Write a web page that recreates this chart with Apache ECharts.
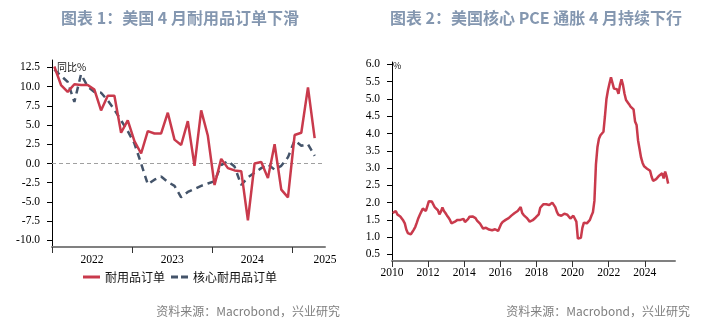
<!DOCTYPE html>
<html>
<head>
<meta charset="utf-8">
<script src="https://cdn.jsdelivr.net/npm/echarts@6/dist/echarts.min.js"></script>
<style>
html,body{margin:0;padding:0;background:#fff;}
#c{width:708px;height:322px;}
</style>
</head>
<body>
<div id="c"></div>
<script>
// ---- Chart 1: durable goods orders YoY (%), monthly Jan 2022 - Apr 2025 ----
const durableOrders = [12.6,10.2,9.3,10.3,10.2,10.2,9.6,6.9,8.8,8.8,4.0,5.6,
  2.9,1.3,4.2,3.9,3.9,6.6,3.1,2.4,5.5,-0.3,6.9,3.6,
  -2.8,0.6,-0.6,-0.9,-1.0,-7.4,0.0,0.2,-1.9,2.5,-3.4,-4.4,
  3.7,4.0,9.9,3.3];
const coreDurableOrders = [12.2,11.4,10.6,8.0,11.6,10.0,9.3,9.2,8.2,7.0,5.6,4.2,
  2.6,0.0,-2.7,-2.1,-1.7,-2.4,-2.9,-4.4,-3.7,-3.3,-2.9,-2.6,
  -2.3,-0.2,0.3,-0.4,-2.8,-1.8,-1.2,-0.6,-0.1,-0.8,-0.3,0.8,
  3.0,2.3,2.5,1.0];
const leftYears = [2022,2023,2024,2025];
const leftYTicks = [-10,-7.5,-5,-2.5,0,2.5,5,7.5,10,12.5];

// ---- Chart 2: core PCE YoY (%), monthly Jan 2010 - Apr 2025 ----
const corePCE = [
  1.70,1.72,1.76,1.66,1.63,1.60,1.55,1.48,1.40,1.22,1.12,1.08, // 2010
  1.08,1.15,1.22,1.30,1.42,1.55,1.65,1.74,1.83,1.80,1.76,1.90, // 2011
  2.04,2.05,2.03,1.98,1.86,1.82,1.78,1.66,1.74,1.86,1.76,1.70, // 2012
  1.63,1.57,1.50,1.40,1.38,1.44,1.47,1.50,1.53,1.50,1.48,1.53, // 2013
  1.44,1.41,1.52,1.59,1.61,1.60,1.58,1.55,1.48,1.45,1.39,1.32, // 2014
  1.25,1.28,1.27,1.25,1.22,1.21,1.20,1.21,1.23,1.19,1.18,1.21, // 2015
  1.38,1.44,1.46,1.50,1.54,1.55,1.58,1.63,1.68,1.70,1.73,1.76, // 2016
  1.80,1.87,1.70,1.64,1.59,1.56,1.53,1.45,1.44,1.49,1.53,1.57, // 2017
  1.62,1.66,1.85,1.90,1.95,1.96,1.95,1.90,1.93,1.92,2.00,2.02, // 2018
  1.87,1.74,1.65,1.60,1.62,1.64,1.68,1.73,1.65,1.60,1.54,1.58, // 2019
  1.62,1.64,1.45,0.96,0.94,0.98,1.27,1.42,1.44,1.40,1.42,1.50, // 2020
  1.62,1.72,2.05,3.10,3.60,3.85,3.95,4.00,4.05,4.50,5.00,5.25, // 2021
  5.45,5.63,5.62,5.30,5.25,5.28,5.15,5.40,5.57,5.40,5.15,4.97, // 2022
  4.92,4.85,4.78,4.74,4.70,4.35,4.25,3.80,3.55,3.30,3.15,3.05, // 2023
  3.05,2.98,2.96,2.92,2.75,2.63,2.66,2.68,2.70,2.78,2.83,2.85, // 2024
  2.70,2.90,2.75,2.55                                          // 2025
];
const rightYears = [2010,2012,2014,2016,2018,2020,2022,2024];
const rightYTicks = [0.5,1,1.5,2,2.5,3,3.5,4,4.5,5,5.5,6];

const RED = '#C93A4C';
const NAVY = '#44546A';
const serif = 'Liberation Serif';
const cjk = 'Noto Sans CJK SC';

const leftPoints = (arr) => arr.map((v, i) => [i + 0.35, v]);
const rightPoints = corePCE.map((v, k) => [2010 + (k + 0.5) / 12, v]);

const chart = echarts.init(document.getElementById('c'), null, {renderer: 'canvas'});
chart.setOption({
  animation: false,
  backgroundColor: '#fff',
  title: [
    {text: '图表 1：美国 4 月耐用品订单下滑', left: 175, top: 5, textAlign: 'center',
     textStyle: {fontFamily: cjk, fontSize: 16, fontWeight: 'bold', color: '#8497B0'}},
    {text: '图表 2：美国核心 PCE 通胀 4 月持续下行', left: 531, top: 5, textAlign: 'center',
     textStyle: {fontFamily: cjk, fontSize: 16, fontWeight: 'bold', color: '#8497B0'}}
  ],
  graphic: [
    {type: 'text', right: 368, top: 305, style: {text: '资料来源：Macrobond，兴业研究', font: '12px "Noto Sans CJK SC"', fill: '#7F7F7F'}},
    {type: 'text', right: 18, top: 305, style: {text: '资料来源：Macrobond，兴业研究', font: '12px "Noto Sans CJK SC"', fill: '#7F7F7F'}}
  ],
  legend: {
    left: 78, top: 266, itemWidth: 17, itemHeight: 3, itemGap: 6,
    textStyle: {fontFamily: cjk, fontSize: 12, color: '#111'},
    data: [
      {name: '耐用品订单', icon: 'rect'},
      {name: '核心耐用品订单', icon: 'path://M0,0h7v3h-7z M10,0h7v3h-7z'}
    ]
  },
  grid: [
    {left: 52, top: 60, width: 273, height: 187},
    {left: 392, top: 62, width: 283, height: 199}
  ],
  xAxis: [
    {type: 'value', gridIndex: 0, min: 0, max: 40.9,
     axisLine: {show: true, onZero: false, lineStyle: {color: '#808080', width: 2}},
     axisTick: {show: true, length: 6, lineStyle: {color: '#333'}, customValues: [0, 12, 24, 36]},
     axisLabel: {customValues: [6, 18, 30, 40.9], margin: 7,
       formatter: (v) => String(leftYears[Math.floor(v / 12)]),
       fontFamily: serif, fontSize: 11.5, color: '#000'},
     splitLine: {show: false}},
    {type: 'value', gridIndex: 1, min: 2010, max: 2025.67,
     axisLine: {show: true, onZero: false, lineStyle: {color: '#808080', width: 2}},
     axisTick: {show: true, length: 6, lineStyle: {color: '#333'}, customValues: rightYears},
     axisLabel: {customValues: rightYears, margin: 6, formatter: (v) => String(Math.round(v)),
       fontFamily: serif, fontSize: 11.5, color: '#000'},
     splitLine: {show: false}}
  ],
  yAxis: [
    {type: 'value', gridIndex: 0, min: -10.85, max: 13.45,
     name: '同比%', nameLocation: 'end', nameGap: -7,
     nameTextStyle: {fontFamily: cjk, fontSize: 10, color: '#111', align: 'left', verticalAlign: 'middle', padding: [0, 0, 0, 5]},
     axisLine: {show: true, onZero: false, lineStyle: {color: '#000', width: 1}},
     axisTick: {show: true, length: 5, lineStyle: {color: '#000'}, customValues: leftYTicks},
     axisLabel: {customValues: leftYTicks, margin: 12, formatter: (v) => v.toFixed(1),
       fontFamily: serif, fontSize: 11.5, color: '#000'},
     splitLine: {show: false}},
    {type: 'value', gridIndex: 1, min: 0.31, max: 6.07,
     name: '%', nameLocation: 'end', nameGap: -4,
     nameTextStyle: {fontFamily: cjk, fontSize: 9, color: '#111', align: 'left', verticalAlign: 'middle', padding: [0, 0, 0, 1]},
     axisLine: {show: true, onZero: false, lineStyle: {color: '#000', width: 1}},
     axisTick: {show: true, length: 5, lineStyle: {color: '#000'}, customValues: rightYTicks},
     axisLabel: {customValues: rightYTicks, margin: 12, formatter: (v) => v.toFixed(1),
       fontFamily: serif, fontSize: 11.5, color: '#000'},
     splitLine: {show: false}}
  ],
  series: [
    {name: '耐用品订单', type: 'line', xAxisIndex: 0, yAxisIndex: 0,
     data: leftPoints(durableOrders), symbol: 'none', z: 3,
     lineStyle: {color: RED, width: 2.5}, itemStyle: {color: RED}},
    {name: '核心耐用品订单', type: 'line', xAxisIndex: 0, yAxisIndex: 0,
     data: leftPoints(coreDurableOrders), symbol: 'none', z: 2,
     lineStyle: {color: NAVY, width: 2.5, type: [7, 5]}, itemStyle: {color: NAVY},
     markLine: {silent: true, symbol: ['none', 'none'], z: 1, label: {show: false},
       lineStyle: {color: '#A0A0A0', type: [4, 3], width: 1},
       emphasis: {disabled: true},
       data: [{yAxis: 0}]}},
    {name: '核心PCE', type: 'line', xAxisIndex: 1, yAxisIndex: 1,
     data: rightPoints, symbol: 'none',
     lineStyle: {color: RED, width: 2.5}, itemStyle: {color: RED}}
  ]
});
</script>
</body>
</html>
